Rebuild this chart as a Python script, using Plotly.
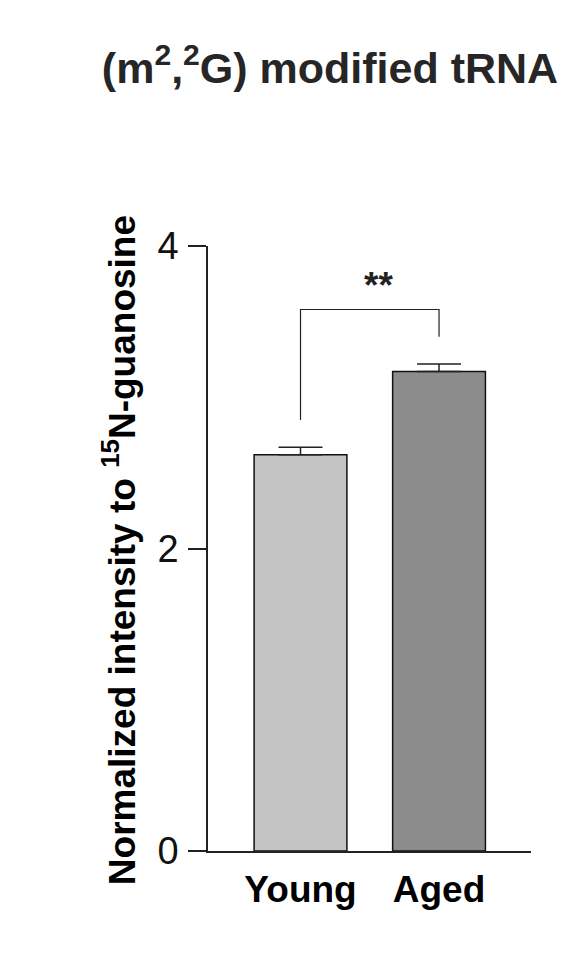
import plotly.graph_objects as go

# data
groups = ['Young', 'Aged']
means = [2.62, 3.17]
sem = [0.05, 0.05]
bar_colors = ['#c4c4c4', '#8c8c8c']
y_ticks = [0, 2, 4]

# significance bracket (Young vs Aged)
sig_label = '**'
sig_y = 3.58
sig_leg_bottom = [2.85, 3.40]

font = 'Liberation Sans, Arial, sans-serif'
xs = list(range(len(groups)))

fig = go.Figure()
fig.add_trace(go.Bar(
    x=xs,
    y=means,
    width=0.67,
    marker=dict(color=bar_colors, line=dict(color='#111111', width=1.5)),
    error_y=dict(
        type='data',
        symmetric=False,
        array=sem,
        arrayminus=[0] * len(sem),
        color='#222222',
        thickness=1.5,
        width=22
    ),
    showlegend=False,
    hoverinfo='skip'
))

# bracket
fig.add_trace(go.Scatter(
    x=[xs[0], xs[0], xs[1], xs[1]],
    y=[sig_leg_bottom[0], sig_y, sig_y, sig_leg_bottom[1]],
    mode='lines',
    line=dict(color='#222222', width=1.2),
    showlegend=False,
    hoverinfo='skip'
))

fig.add_annotation(
    x=(xs[0] + xs[1]) / 2,
    y=sig_y,
    text='<b>' + sig_label + '</b>',
    showarrow=False,
    yanchor='bottom',
    yshift=2,
    xshift=9,
    font=dict(family=font, size=37, color='#222222')
)

# y-axis title
fig.add_annotation(
    xref='paper', yref='paper',
    x=-0.275, y=0.4975,
    text='<b>Normalized intensity to <sup>15</sup>N-guanosine</b>',
    textangle=-90,
    showarrow=False,
    xanchor='center', yanchor='middle',
    font=dict(family=font, size=37, color='#000000')
)

fig.update_layout(
    width=567,
    height=958,
    margin=dict(l=200, r=44, t=238, b=115),
    paper_bgcolor='white',
    plot_bgcolor='white',
    title=dict(
        text='<b>(m<sup>2</sup>,<sup>2</sup>G) modified tRNA</b>',
        x=322 / 567,
        xref='container',
        xanchor='center',
        y=1 - 60 / 958,
        yref='container',
        yanchor='middle',
        font=dict(family=font, size=43, color='#262626')
    ),
    xaxis=dict(
        range=[-0.668, 1.664],
        tickvals=xs,
        ticktext=['<b>' + g + '</b>' for g in groups],
        ticks='',
        showline=True,
        linecolor='#222222',
        linewidth=1.5,
        showgrid=False,
        zeroline=False,
        tickfont=dict(family=font, size=37, color='#000000'),
        ticklabelstandoff=5,
        fixedrange=True
    ),
    yaxis=dict(
        range=[0, 4],
        tickvals=y_ticks,
        ticks='outside',
        ticklen=18,
        tickwidth=1.5,
        tickcolor='#222222',
        showline=True,
        linecolor='#222222',
        linewidth=1.5,
        showgrid=False,
        zeroline=False,
        tickfont=dict(family=font, size=38, color='#111111'),
        ticklabelstandoff=2,
        fixedrange=True
    ),
    bargap=0.3
)

fig.write_html('out.html')
